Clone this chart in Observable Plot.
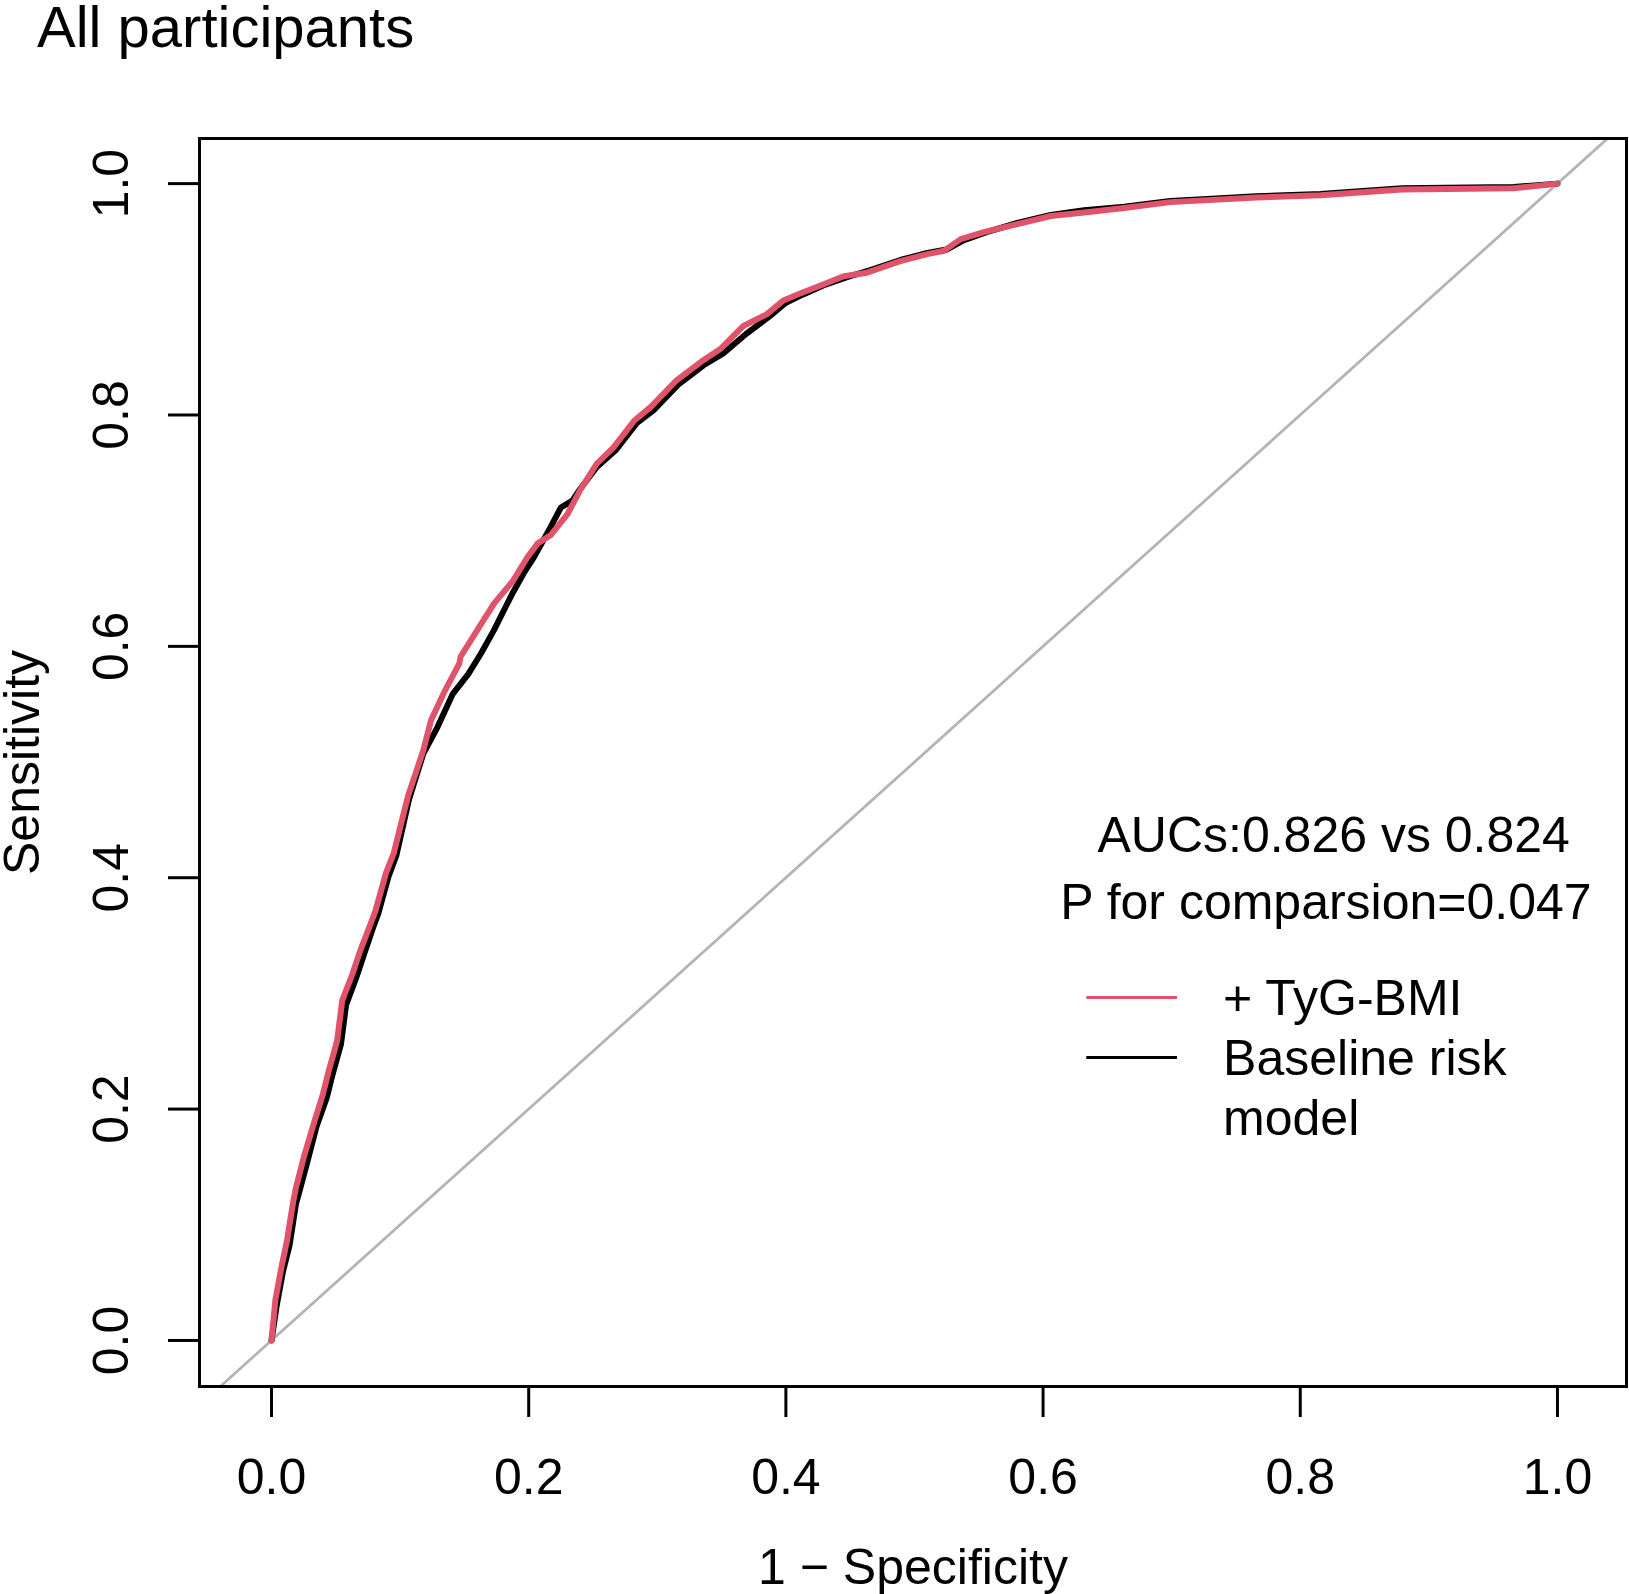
<!DOCTYPE html>
<html>
<head>
<meta charset="utf-8">
<script src="https://cdn.jsdelivr.net/npm/d3@7"></script>
<script src="https://cdn.jsdelivr.net/npm/@observablehq/plot@0.6"></script>
<style>
  body { margin: 0; background: #fff; }
  #title {
    height: 60px; line-height: 60px; position: relative; top: -7px;
    padding-left: 37px; font: 58px "Liberation Sans", Arial, sans-serif;
    color: #000; white-space: nowrap;
  }
</style>
</head>
<body>
<div id="title">All participants</div>
<div id="chart"></div>
<script>
// ROC curve of the model with TyG-BMI: 1 - specificity and sensitivity
const tygFpr = [0, 0.003, 0.008, 0.012, 0.017, 0.019, 0.025, 0.033, 0.040, 0.044,
  0.051, 0.055, 0.063, 0.069, 0.077, 0.081, 0.089, 0.095, 0.106, 0.118,
  0.124, 0.135, 0.146, 0.147, 0.160, 0.173, 0.188, 0.199, 0.207, 0.217,
  0.230, 0.240, 0.253, 0.266, 0.282, 0.295, 0.315, 0.334, 0.349, 0.367,
  0.385, 0.398, 0.411, 0.427, 0.445, 0.463, 0.489, 0.510, 0.523, 0.536,
  0.554, 0.580, 0.606, 0.632, 0.663, 0.699, 0.766, 0.816, 0.879, 0.966, 1.0];
const tygSens = [0, 0.035, 0.065, 0.086, 0.121, 0.132, 0.158, 0.188, 0.213, 0.231,
  0.259, 0.294, 0.317, 0.337, 0.360, 0.372, 0.404, 0.421, 0.470, 0.510,
  0.536, 0.562, 0.585, 0.591, 0.614, 0.637, 0.657, 0.677, 0.689, 0.696,
  0.714, 0.735, 0.758, 0.772, 0.795, 0.807, 0.830, 0.846, 0.857, 0.877,
  0.887, 0.899, 0.905, 0.912, 0.920, 0.923, 0.933, 0.939, 0.942, 0.952,
  0.958, 0.965, 0.972, 0.975, 0.979, 0.984, 0.988, 0.990, 0.995, 0.996, 1.0];

// ROC curve of the baseline risk model
const baseFpr = [0, 0.004, 0.009, 0.014, 0.019, 0.022, 0.028, 0.035, 0.043, 0.047,
  0.054, 0.058, 0.066, 0.072, 0.079, 0.083, 0.091, 0.097, 0.107, 0.118,
  0.129, 0.141, 0.153, 0.163, 0.173, 0.182, 0.187, 0.196, 0.204, 0.217,
  0.225, 0.234, 0.240, 0.253, 0.268, 0.284, 0.297, 0.317, 0.336, 0.351,
  0.369, 0.387, 0.400, 0.413, 0.429, 0.447, 0.465, 0.489, 0.510, 0.525,
  0.538, 0.556, 0.580, 0.606, 0.632, 0.663, 0.699, 0.766, 0.816, 0.879, 0.966, 1.0];
const baseSens = [0, 0.030, 0.060, 0.082, 0.118, 0.130, 0.155, 0.185, 0.210, 0.228,
  0.256, 0.290, 0.314, 0.334, 0.357, 0.369, 0.401, 0.419, 0.468, 0.507,
  0.530, 0.559, 0.576, 0.594, 0.614, 0.634, 0.645, 0.663, 0.677, 0.703,
  0.720, 0.726, 0.736, 0.755, 0.770, 0.793, 0.804, 0.827, 0.843, 0.853,
  0.870, 0.885, 0.897, 0.904, 0.912, 0.919, 0.925, 0.934, 0.940, 0.943,
  0.951, 0.958, 0.966, 0.973, 0.977, 0.980, 0.985, 0.989, 0.991, 0.996, 0.997, 1.0];

// chance diagonal (sensitivity = 1 - specificity)
const diagonal = [-0.2, 1.2];

const xTicks = [0, 0.2, 0.4, 0.6, 0.8, 1.0];
const xTickLabels = ["0.0", "0.2", "0.4", "0.6", "0.8", "1.0"];
const yTicks = [0, 0.2, 0.4, 0.6, 0.8, 1.0];
const yTickLabels = ["0.0", "0.2", "0.4", "0.6", "0.8", "1.0"];

const xLabel = "1 \u2212 Specificity";
const yLabel = "Sensitivity";

const noteTexts = ["AUCs:0.826 vs 0.824", "P for comparsion=0.047"];
const seriesNames = ["+ TyG-BMI", "Baseline risk\nmodel"];
const seriesColors = ["#DF536B", "#000000"];

// ---- layout (positions in data units of the plot) ----
const notes = noteTexts.map((label, i) => ({label, x: [0.826, 0.820][i], y: [0.4226, 0.3641][i]}));
const legend = seriesNames.map((name, i) => ({
  name, color: seriesColors[i],
  ly: [0.2965, 0.2446][i],
  ty: [0.318, 0.266][i]
}));

const tyg = tygFpr.map((x, i) => ({x, y: tygSens[i]}));
const base = baseFpr.map((x, i) => ({x, y: baseSens[i]}));

const font = '"Liberation Sans", Arial, Helvetica, sans-serif';
const fs = 50;

const chart = Plot.plot({
  width: 1629,
  height: 1534,
  marginLeft: 199,
  marginRight: 3,
  marginTop: 78,
  marginBottom: 208,
  x: {domain: [-0.056, 1.0537], label: null},
  y: {domain: [-0.0398, 1.039], label: null},
  style: {fontFamily: font, background: "#fff", color: "#000", overflow: "visible"},
  marks: [
    Plot.line(diagonal, {x: d => d, y: d => d, stroke: "#B4B4B4", strokeWidth: 2.8, clip: true}),
    Plot.line(base, {x: "x", y: "y", stroke: seriesColors[1], strokeWidth: 6, strokeLinejoin: "round", strokeLinecap: "round"}),
    Plot.line(tyg, {x: "x", y: "y", stroke: seriesColors[0], strokeWidth: 6, strokeLinejoin: "round", strokeLinecap: "round"}),
    Plot.frame({stroke: "#000", strokeWidth: 3}),
    Plot.axisX({ticks: xTicks, tickFormat: d => xTickLabels[xTicks.indexOf(d)], tickSize: 31, tickPadding: 41,
      fontSize: fs, strokeWidth: 3, label: null}),
    Plot.axisY({ticks: yTicks, tickFormat: () => "", tickSize: 31, strokeWidth: 3, label: null}),
    Plot.text(yTicks, {y: d => d, text: d => yTickLabels[yTicks.indexOf(d)], frameAnchor: "left", dx: -72,
      rotate: -90, textAnchor: "middle", lineAnchor: "bottom", fontSize: fs}),
    Plot.text([xLabel], {frameAnchor: "bottom", dy: 197, lineAnchor: "bottom", fontSize: fs}),
    Plot.text([yLabel], {frameAnchor: "left", dx: -161, rotate: -90, textAnchor: "middle", lineAnchor: "bottom", fontSize: fs}),
    Plot.text(notes, {x: "x", y: "y", text: "label", lineAnchor: "bottom", textAnchor: "middle", fontSize: fs}),
    Plot.ruleY(legend, {y: "ly", x1: 0.634, x2: 0.7045, stroke: "color", strokeWidth: 3}),
    Plot.text(legend, {x: 0.740, y: "ty", text: "name", textAnchor: "start", lineAnchor: "top",
      lineHeight: 1.2, fontSize: fs})
  ]
});
document.getElementById("chart").appendChild(chart);
</script>
</body>
</html>
